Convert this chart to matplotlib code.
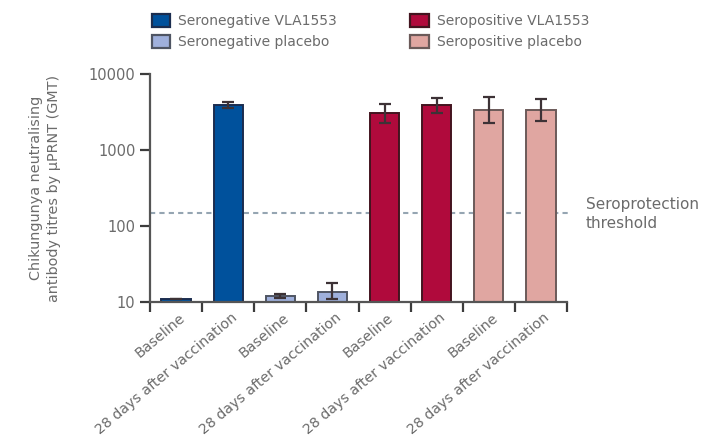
import numpy as np
import matplotlib
matplotlib.use("Agg")
import matplotlib.pyplot as plt
import matplotlib.ticker as mticker
from matplotlib.patches import Patch

# GMT by group and timepoint, with 95% CI bounds
timepoints = ["Baseline", "28 days after vaccination"]
groups = ["Seronegative VLA1553", "Seronegative placebo",
          "Seropositive VLA1553", "Seropositive placebo"]
gmt = [11, 3900, 12, 13.5, 3070, 3900, 3360, 3360]
ci_low = [11, 3600, 11.2, 11.0, 2260, 3070, 2260, 2400]
ci_high = [11, 4300, 12.6, 17.8, 4030, 4830, 4980, 4680]
threshold = 150

fills = ["#00519c", "#9fb0dc", "#b00a3c", "#e0a6a1"]
edges = ["#1b2d4f", "#4f5563", "#43141f", "#6b5a59"]
text_grey = "#6b6b6b"

plt.rcParams["font.family"] = ["DejaVu Sans"]

fig = plt.figure(figsize=(7.17, 4.45), dpi=100)
ax = fig.add_axes([150 / 717, 143 / 445, 417 / 717, 228 / 445])

n = len(gmt)
x = np.arange(n) + 0.5
bar_colors = [fills[i // 2] for i in range(n)]
bar_edges = [edges[i // 2] for i in range(n)]

ax.axhline(threshold, xmin=0, xmax=1.007, color="#95a5b2", lw=1.5,
           ls=(0, (2.5, 2)), zorder=1, clip_on=False)

ax.bar(x, gmt, width=0.56, color=bar_colors, edgecolor=bar_edges,
       linewidth=1.4, zorder=2)

gmt_arr = np.array(gmt)
yerr = np.vstack([gmt_arr - np.array(ci_low), np.array(ci_high) - gmt_arr])
ax.errorbar(x, gmt, yerr=yerr, fmt="none", ecolor="#3d3236", elinewidth=1.6,
            capsize=4.5, capthick=1.6, zorder=3)

ax.set_yscale("log")
ax.set_ylim(10, 10000)
ax.set_xlim(0, n)
ax.yaxis.set_major_locator(mticker.FixedLocator([10, 100, 1000, 10000]))
ax.yaxis.set_major_formatter(mticker.FuncFormatter(lambda v, p: f"{int(v)}"))
ax.yaxis.set_minor_locator(mticker.NullLocator())

ax.set_xticks(np.arange(n + 1))
ax.set_xticklabels([])
ax.set_xticks(x + 0.05, minor=True)
ax.set_xticklabels(timepoints * 4, minor=True, rotation=40, ha="right",
                   rotation_mode="anchor", color=text_grey, fontsize=10.2)
ax.tick_params(axis="x", which="minor", length=0, pad=6)
ax.tick_params(axis="x", which="major", length=7, width=1.6, color="#3c3c3c")
ax.tick_params(axis="y", length=7, width=1.6, color="#3c3c3c",
               labelcolor=text_grey, labelsize=10.5)

for side in ["top", "right"]:
    ax.spines[side].set_visible(False)
for side in ["left", "bottom"]:
    ax.spines[side].set_linewidth(1.6)
    ax.spines[side].set_color("#555555")

ax.set_ylabel("Chikungunya neutralising\nantibody titres by μPRNT (GMT)",
              color=text_grey, fontsize=10.4, labelpad=20, linespacing=1.35)

fig.text(586 / 717, 1 - 214 / 445, "Seroprotection\nthreshold",
         color=text_grey, fontsize=11, va="center", ha="left",
         linespacing=1.25)

handles = [Patch(facecolor=fills[i], edgecolor=edges[i], linewidth=1.6)
           for i in [0, 1, 2, 3]]
fig.legend(handles, groups, loc="upper left",
           bbox_to_anchor=(142 / 717, 1 - 4 / 445),
           ncol=2, frameon=False, fontsize=10, labelcolor=text_grey,
           handlelength=1.3, handleheight=1.1, handletextpad=0.6,
           columnspacing=5.3, labelspacing=0.5, borderaxespad=0.3)

fig.savefig("out.png", dpi=100)
